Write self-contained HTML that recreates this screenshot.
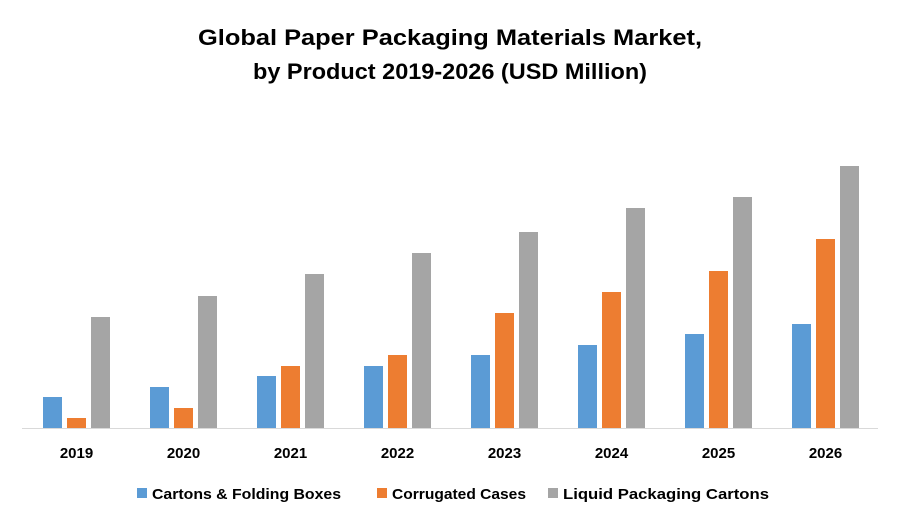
<!DOCTYPE html>
<html><head><meta charset="utf-8"><style>
body{margin:0;background:#fff;width:900px;height:525px;overflow:hidden;font-family:"Liberation Sans",sans-serif}
</style></head><body>
<svg width="900" height="525" xmlns="http://www.w3.org/2000/svg">
<text x="450" y="45" text-anchor="middle" font-size="22" font-weight="bold" fill="#000" textLength="504" lengthAdjust="spacingAndGlyphs">Global Paper Packaging Materials Market,</text>
<text x="450" y="79" text-anchor="middle" font-size="22" font-weight="bold" fill="#000" textLength="394" lengthAdjust="spacingAndGlyphs">by Product 2019-2026 (USD Million)</text>
<g id="bars"></g>
<line x1="22" y1="428.5" x2="878" y2="428.5" stroke="#d9d9d9" stroke-width="1"/>
<g id="xlabels"></g>
<g id="legend"></g>
</svg>
<script>
const categories=["2019","2020","2021","2022","2023","2024","2025","2026"];
const cartons=[31,41,52,62,73,83,94,104];
const corrugated=[10,20,62,73,115,136,157,189];
const liquid=[111,132,154,175,196,220,231,262];
const seriesNames=["Cartons & Folding Boxes","Corrugated Cases","Liquid Packaging Cartons"];
const colors=["#5b9bd5","#ed7d31","#a5a5a5"];
const NS="http://www.w3.org/2000/svg";
const x0=22,x1=878,base=428,groupW=(x1-x0)/categories.length;
const yScale=v=>base-v;
const bw=19,offs=[-23,1,25];
const series=[cartons,corrugated,liquid];
const gb=document.getElementById('bars');
categories.forEach((c,i)=>{
  const cx=x0+groupW*(i+0.5);
  series.forEach((s,k)=>{
    const r=document.createElementNS(NS,'rect');
    r.setAttribute('x',cx+offs[k]-bw/2);
    r.setAttribute('y',yScale(s[i]));
    r.setAttribute('width',bw);
    r.setAttribute('height',base-yScale(s[i]));
    r.setAttribute('fill',colors[k]);
    
    
    gb.appendChild(r);
  });
  const t=document.createElementNS(NS,'text');
  t.setAttribute('x',cx+1);t.setAttribute('y',458);
  t.setAttribute('text-anchor','middle');t.setAttribute('font-size','15');t.setAttribute('font-weight','bold');
  t.textContent=c;
  
  
  document.getElementById('xlabels').appendChild(t);
});
const lg=document.getElementById('legend');
const lx=[137,377,548];
const lw=[189,134,206];
seriesNames.forEach((n,k)=>{
  const r=document.createElementNS(NS,'rect');
  r.setAttribute('x',lx[k]);r.setAttribute('y',488);r.setAttribute('width',10);r.setAttribute('height',10);r.setAttribute('fill',colors[k]);
  
  
  lg.appendChild(r);
  const t=document.createElementNS(NS,'text');
  t.setAttribute('x',lx[k]+15);t.setAttribute('y',499);t.setAttribute('font-size','15');t.setAttribute('font-weight','bold');
  t.setAttribute('textLength',lw[k]);t.setAttribute('lengthAdjust','spacingAndGlyphs');
  t.textContent=n;
  
  
  lg.appendChild(t);
});
</script>
</body></html>
